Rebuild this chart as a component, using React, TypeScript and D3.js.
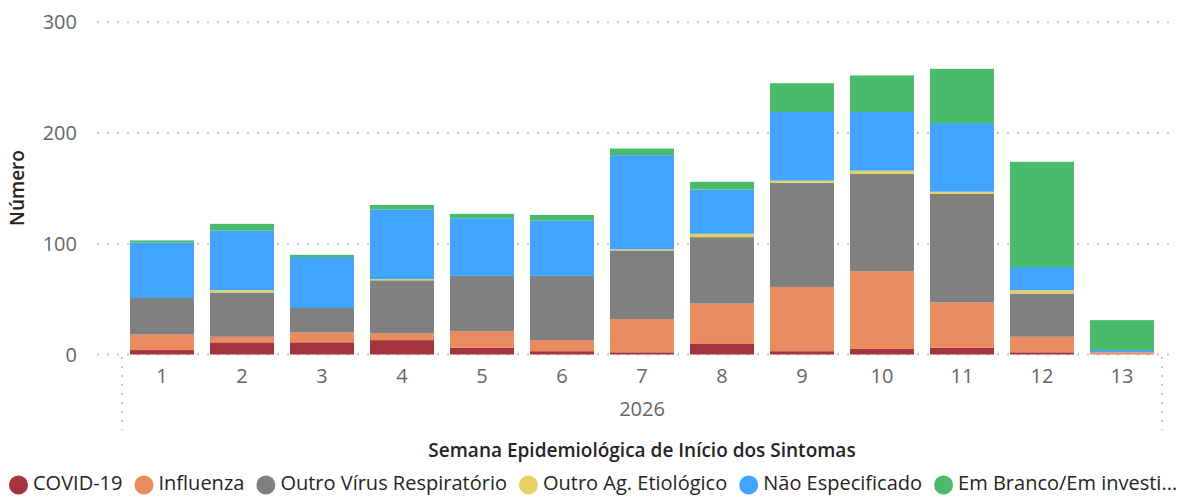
import * as React from 'react';
import * as d3 from 'd3';

const weeks = ['1', '2', '3', '4', '5', '6', '7', '8', '9', '10', '11', '12', '13'];
const covid = [4, 11, 11, 13, 6, 3, 2, 10, 3, 5, 6, 2, 0];
const influenza = [14, 5, 9, 6, 15, 10, 30, 36, 58, 70, 41, 14, 2];
const outroVirus = [33, 40, 22, 48, 50, 58, 62, 60, 94, 88, 98, 39, 0];
const outroAg = [0, 2, 0, 1, 0, 0, 1, 3, 2, 3, 2, 3, 0];
const naoEspecificado = [50, 54, 46, 63, 52, 50, 85, 40, 62, 53, 62, 21, 2];
const emBranco = [2, 6, 2, 4, 4, 5, 6, 7, 26, 33, 49, 95, 27];

const seriesKeys = ['covid', 'influenza', 'outroVirus', 'outroAg', 'naoEspecificado', 'emBranco'];
const seriesLabels = ['COVID-19', 'Influenza', 'Outro Vírus Respiratório', 'Outro Ag. Etiológico', 'Não Especificado', 'Em Branco/Em investi...'];
const seriesColors = ['#A4343F', '#EA8B5F', '#808080', '#E8CF62', '#41A5FF', '#48BC6A'];
const yTicks = [0, 100, 200, 300];

const FONT = '"Segoe UI", "Open Sans", sans-serif';

export default class App extends React.Component {
  svgRef = React.createRef<SVGSVGElement>();

  width = 1182;
  height = 497;

  componentDidMount() {
    this.init();
  }

  init() {
    const svg = d3.select(this.svgRef.current);
    svg.selectAll('*').remove();

    const data = weeks.map((w, i) => ({
      week: w,
      covid: covid[i],
      influenza: influenza[i],
      outroVirus: outroVirus[i],
      outroAg: outroAg[i],
      naoEspecificado: naoEspecificado[i],
      emBranco: emBranco[i]
    }));

    const series = d3.stack<any>().keys(seriesKeys)(data);
    const color = d3.scaleOrdinal<string, string>().domain(seriesKeys).range(seriesColors);

    const xScale = d3.scaleBand()
      .domain(weeks)
      .range([122, 1162])
      .paddingInner(0.2)
      .paddingOuter(0.1);

    const yScale = d3.scaleLinear()
      .domain([0, 300])
      .range([354.5, 22.3]);

    // grid lines
    svg.append('g').attr('class', 'grid')
      .selectAll('line')
      .data(yTicks)
      .enter().append('line')
      .attr('x1', 97)
      .attr('x2', 1176)
      .attr('y1', d => yScale(d))
      .attr('y2', d => yScale(d))
      .attr('stroke', '#c8c8c8')
      .attr('stroke-width', 2)
      .attr('stroke-dasharray', '2,8');

    // y tick labels
    svg.append('g').attr('class', 'axis y')
      .selectAll('text')
      .data(yTicks)
      .enter().append('text')
      .attr('x', 77)
      .attr('y', d => yScale(d))
      .attr('dy', '0.35em')
      .attr('text-anchor', 'end')
      .attr('fill', '#666666')
      .style('font-family', FONT)
      .style('font-size', '20px')
      .text(d => d);

    // y axis title
    svg.append('text')
      .attr('transform', `translate(24, 188) rotate(-90)`)
      .attr('text-anchor', 'middle')
      .attr('fill', '#252423')
      .style('font-family', FONT)
      .style('font-size', '19px')
      .style('font-weight', 600)
      .text('Número');

    // stacked bars
    svg.append('g').attr('class', 'chart')
      .selectAll('g')
      .data(series)
      .enter().append('g')
      .attr('fill', d => color(d.key))
      .selectAll('rect')
      .data(d => d)
      .enter().append('rect')
      .attr('x', d => xScale(d.data.week))
      .attr('width', xScale.bandwidth())
      .attr('y', d => yScale(d[1]))
      .attr('height', d => yScale(d[0]) - yScale(d[1]));

    // x axis separators
    const [x0, x1] = xScale.range();
    svg.append('g').attr('class', 'separators')
      .selectAll('line')
      .data([x0, x1])
      .enter().append('line')
      .attr('x1', d => d)
      .attr('x2', d => d)
      .attr('y1', 357)
      .attr('y2', 430)
      .attr('stroke', '#c8c8c8')
      .attr('stroke-width', 2)
      .attr('stroke-dasharray', '2,7');

    // x tick labels
    svg.append('g').attr('class', 'axis x')
      .selectAll('text')
      .data(weeks)
      .enter().append('text')
      .attr('x', d => xScale(d) + xScale.bandwidth() / 2)
      .attr('y', 383)
      .attr('text-anchor', 'middle')
      .attr('fill', '#666666')
      .style('font-family', FONT)
      .style('font-size', '20px')
      .text(d => d);

    svg.append('text')
      .attr('x', (x0 + x1) / 2)
      .attr('y', 416)
      .attr('text-anchor', 'middle')
      .attr('fill', '#666666')
      .style('font-family', FONT)
      .style('font-size', '20px')
      .text('2026');

    // x axis title
    svg.append('text')
      .attr('x', (x0 + x1) / 2)
      .attr('y', 457)
      .attr('text-anchor', 'middle')
      .attr('fill', '#252423')
      .style('font-family', FONT)
      .style('font-size', '19px')
      .style('font-weight', 600)
      .text('Semana Epidemiológica de Início dos Sintomas');

    this.initLegend(svg, color);
  }

  initLegend(svg: any, color: any) {
    const legend = svg.append('g').attr('class', 'legend');
    let x = 9;
    const cy = 483;
    const r = 9.5;

    seriesKeys.forEach((key, i) => {
      legend.append('circle')
        .attr('cx', x + r)
        .attr('cy', cy + 2)
        .attr('r', r)
        .attr('fill', color(key));
      const label = legend.append('text')
        .attr('x', x + 2 * r + 5)
        .attr('y', cy)
        .attr('dy', '0.35em')
        .attr('fill', '#252423')
        .style('font-family', FONT)
        .style('font-size', '20px')
        .text(seriesLabels[i]);
      const w = (label.node() as SVGTextElement).getComputedTextLength();
      x = x + 2 * r + 5 + w + 12;
    });
  }

  render() {
    return (
      <svg ref={this.svgRef} width={this.width} height={this.height}
        style={{ display: 'block', position: 'absolute', left: 0, top: 0 }} />
    );
  }
}
